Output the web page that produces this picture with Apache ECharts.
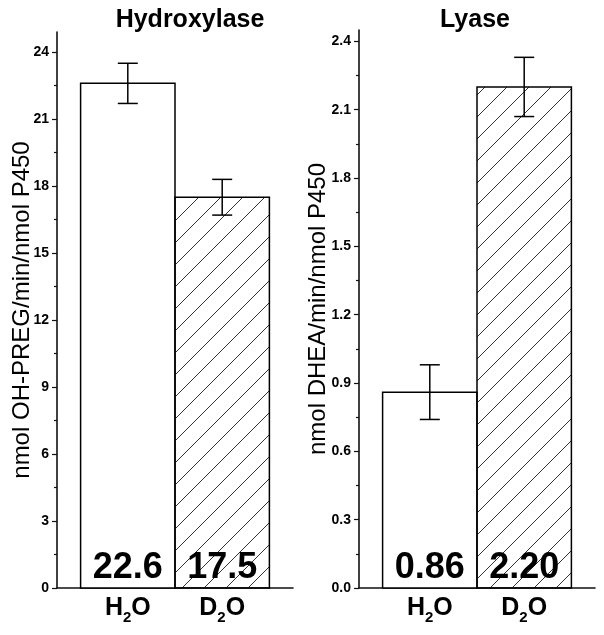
<!DOCTYPE html>
<html><head><meta charset="utf-8">
<script src="https://cdn.jsdelivr.net/npm/echarts@6/dist/echarts.min.js"></script>
<style>html,body{margin:0;padding:0;background:#fff}#c{width:604px;height:635px}</style>
</head><body><div id="c"></div>
<script>
// ---- data ----
const categories = ['H2O', 'D2O'];
const categoryPos = [1, 2];
const hatched = [false, true];
const hydroxylaseValues = [22.6, 17.5];
const hydroxylaseErrors = [0.9, 0.8];
const lyaseValues = [0.86, 2.20];
const lyaseErrors = [0.12, 0.13];
const hydroxylaseTicks = [0, 3, 6, 9, 12, 15, 18, 21, 24];
const lyaseTicks = [0, 0.3, 0.6, 0.9, 1.2, 1.5, 1.8, 2.1, 2.4];
const titles = ['Hydroxylase', 'Lyase'];
const yNames = ['nmol OH-PREG/min/nmol P450', 'nmol DHEA/min/nmol P450'];

const FONT = '"Liberation Sans", Arial, Helvetica, sans-serif';

function midpoints(t) { const r = []; for (let i = 0; i < t.length - 1; i++) r.push(+((t[i] + t[i + 1]) / 2).toFixed(4)); return r; }

function makeHatch() {
  const s = 22;
  const c = document.createElement('canvas'); c.width = s; c.height = s;
  const g = c.getContext('2d');
  g.strokeStyle = '#333'; g.lineWidth = 1;
  g.beginPath();
  g.moveTo(-3, s + 3); g.lineTo(s + 3, -3);
  g.moveTo(-3, 3); g.lineTo(3, -3);
  g.moveTo(s - 3, s + 3); g.lineTo(s + 3, s - 3);
  g.stroke();
  return c;
}
const hatchCanvas = makeHatch();

const grids = [
  { left: 57, top: 32, width: 236, bottom: 47 },
  { left: 359, top: 30, width: 236, bottom: 47 }
];

function xAxisFor(idx) {
  return {
    type: 'value', gridIndex: idx, min: 0.25, max: 2.75, position: 'bottom',
    axisLine: { show: true, onZero: false, lineStyle: { color: '#111', width: 1.6 } },
    axisTick: { show: false },
    splitLine: { show: false },
    axisLabel: {
      customValues: categoryPos, margin: 11,
      formatter: function (v) {
        const i = categoryPos.indexOf(v);
        if (i < 0) return '';
        return '{b|' + categories[i].replace(/(\d)/, '}{s|$1}{b|') + '}';
      },
      rich: {
        b: { fontFamily: FONT, fontWeight: 'bold', fontSize: 25, color: '#000', lineHeight: 26, verticalAlign: 'bottom', padding: [0, 0, 4, 0] },
        s: { fontFamily: FONT, fontWeight: 'bold', fontSize: 15, color: '#000', lineHeight: 14, verticalAlign: 'bottom' }
      }
    }
  };
}

function yAxesFor(idx, ticks, max, decimals, nameGap) {
  return [{
    type: 'value', gridIndex: idx, min: 0, max: max, position: 'left',
    name: yNames[idx], nameLocation: 'middle', nameGap: nameGap, nameRotate: 90, nameMoveOverlap: false,
    nameTextStyle: { fontFamily: FONT, fontSize: 24, color: '#000' },
    axisLine: { show: true, onZero: false, lineStyle: { color: '#111', width: 1.6 } },
    axisTick: { show: true, customValues: ticks, length: 5, lineStyle: { color: '#111', width: 1.2 } },
    axisLabel: { customValues: ticks, margin: 8, fontFamily: FONT, fontWeight: 'bold', fontSize: 14, color: '#000',
      formatter: v => (+v).toFixed(decimals) },
    splitLine: { show: false }
  }, {
    type: 'value', gridIndex: idx, min: 0, max: max, position: 'left', offset: 0,
    axisLine: { show: false, onZero: false },
    axisTick: { show: true, customValues: midpoints(ticks), length: 3, lineStyle: { color: '#111', width: 1.2 } },
    axisLabel: { show: false },
    splitLine: { show: false }
  }];
}

function barSeries(idx, values, errors, decimals) {
  return {
    type: 'custom', xAxisIndex: idx, yAxisIndex: idx * 2,
    data: values.map((v, i) => [categoryPos[i], v, errors[i]]),
    renderItem: function (params, api) {
      const i = params.dataIndex;
      const x = api.value(0), y = api.value(1), e = api.value(2);
      const tl = api.coord([x - 0.5, y]);
      const br = api.coord([x + 0.5, 0]);
      const top = api.coord([x, y + e]);
      const bot = api.coord([x, y - e]);
      const cx = (tl[0] + br[0]) / 2;
      const cap = 10;
      const ls = { stroke: '#000', lineWidth: 1.5 };
      return {
        type: 'group',
        children: [
          { type: 'rect', shape: { x: tl[0], y: tl[1], width: br[0] - tl[0], height: br[1] - tl[1] },
            style: { fill: hatched[i] ? { image: hatchCanvas, repeat: 'repeat' } : '#fff', stroke: '#000', lineWidth: 1.5 } },
          { type: 'line', shape: { x1: cx, y1: top[1], x2: cx, y2: bot[1] }, style: ls },
          { type: 'line', shape: { x1: cx - cap, y1: top[1], x2: cx + cap, y2: top[1] }, style: ls },
          { type: 'line', shape: { x1: cx - cap, y1: bot[1], x2: cx + cap, y2: bot[1] }, style: ls },
          { type: 'text', style: { text: values[i].toFixed(decimals), x: cx, y: br[1] - 2,
              font: 'bold 36px ' + FONT, fill: '#000',
              textAlign: 'center', textVerticalAlign: 'bottom', align: 'center', verticalAlign: 'bottom' } }
        ]
      };
    }
  };
}

const chart = echarts.init(document.getElementById('c'), null, { renderer: 'canvas' });
chart.setOption({
  animation: false,
  backgroundColor: '#fff',
  grid: grids,
  xAxis: [xAxisFor(0), xAxisFor(1)],
  yAxis: yAxesFor(0, hydroxylaseTicks, 24.9, 0, 23).concat(yAxesFor(1, lyaseTicks, 2.45, 1, 29)),
  graphic: [
    { type: 'text', x: 190, y: 8, style: { text: titles[0], font: 'bold 25px ' + FONT, fill: '#000', textAlign: 'center', align: 'center' } },
    { type: 'text', x: 475, y: 8, style: { text: titles[1], font: 'bold 25px ' + FONT, fill: '#000', textAlign: 'center', align: 'center' } }
  ],
  series: [
    barSeries(0, hydroxylaseValues, hydroxylaseErrors, 1),
    barSeries(1, lyaseValues, lyaseErrors, 2)
  ]
});
</script>
</body></html>
